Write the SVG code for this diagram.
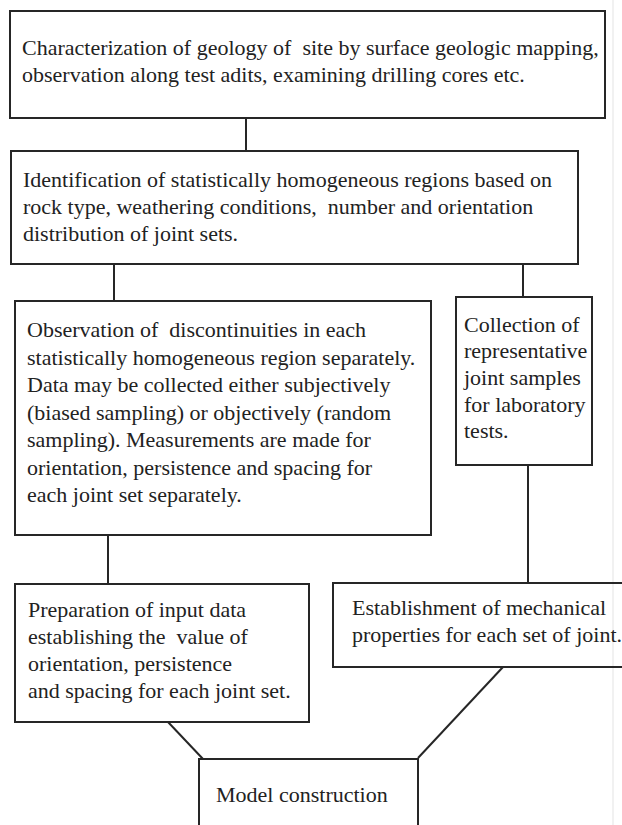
<svg xmlns="http://www.w3.org/2000/svg" width="622" height="825" viewBox="0 0 622 825">
<style>
.box{fill:none;stroke:#262626;stroke-width:2}
.con{fill:none;stroke:#262626;stroke-width:2}
text{font-family:"Liberation Serif","Times New Roman",serif;font-size:22px;fill:#222;white-space:pre}
</style>
<rect width="622" height="825" fill="#fff"/>
<line x1="613" y1="0" x2="613" y2="825" stroke="#ececec" stroke-width="1.5"/>
<g id="connectors">
<line class="con" x1="246" y1="118" x2="246" y2="151"/>
<line class="con" x1="114" y1="264" x2="114" y2="301"/>
<line class="con" x1="523" y1="264" x2="523" y2="297"/>
<line class="con" x1="108" y1="535" x2="108" y2="584"/>
<line class="con" x1="528" y1="465" x2="528" y2="583"/>
<line class="con" x1="168" y1="722" x2="203" y2="759"/>
<line class="con" x1="503" y1="667" x2="418" y2="758"/>
</g>
<g id="n1">
<rect class="box" x="10" y="11" width="595" height="107"/>
<text x="22" y="55">Characterization of geology of  site by surface geologic mapping,</text>
<text x="22" y="82">observation along test adits, examining drilling cores etc.</text>
</g>
<g id="n2">
<rect class="box" x="11" y="151" width="567" height="113"/>
<text x="23" y="187">Identification of statistically homogeneous regions based on</text>
<text x="23" y="214">rock type, weathering conditions,  number and orientation</text>
<text x="23" y="241">distribution of joint sets.</text>
</g>
<g id="n3">
<rect class="box" x="15" y="301" width="416" height="234"/>
<text x="27" y="337">Observation of  discontinuities in each</text>
<text x="27" y="364.5">statistically homogeneous region separately.</text>
<text x="27" y="392">Data may be collected either subjectively</text>
<text x="27" y="419.5">(biased sampling) or objectively (random</text>
<text x="27" y="447">sampling). Measurements are made for</text>
<text x="27" y="474.5">orientation, persistence and spacing for</text>
<text x="27" y="502">each joint set separately.</text>
</g>
<g id="n4">
<rect class="box" x="456" y="297" width="136" height="168"/>
<text x="464" y="332">Collection of</text>
<text x="464" y="358">representative</text>
<text x="464" y="385">joint samples</text>
<text x="464" y="412">for laboratory</text>
<text x="464" y="438">tests.</text>
</g>
<g id="n5">
<rect class="box" x="15" y="584" width="294" height="138"/>
<text x="28" y="617">Preparation of input data</text>
<text x="28" y="644">establishing the  value of</text>
<text x="28" y="671">orientation, persistence</text>
<text x="28" y="698">and spacing for each joint set.</text>
</g>
<g id="n6">
<rect class="box" x="333" y="583" width="300" height="84"/>
<text x="352" y="615">Establishment of mechanical</text>
<text x="352" y="642">properties for each set of joint.</text>
</g>
<g id="n7">
<rect class="box" x="199" y="759" width="219" height="80"/>
<text x="216" y="802">Model construction</text>
</g>
</svg>
